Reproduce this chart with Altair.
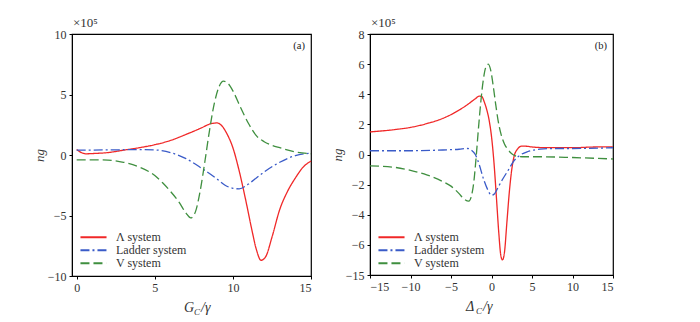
import altair as alt
import pandas as pd

names = ["Λ system", "Ladder system", "V system"]
colors = ["#f02828", "#3a5bc8", "#3f8f3f"]
dashes = [[1, 0], [9, 3, 2, 3], [9, 4]]

# Panel (a): ng vs G_C/gamma (units of 1e5)
a_lam_x = [0, 0.3, 0.6, 1, 2, 3, 4, 5, 6, 7, 8, 8.5, 9.0, 9.3, 9.6, 10.0, 10.4, 10.8, 11.2, 11.5, 11.8, 12.1, 12.5, 13, 13.5, 14, 14.5, 15]
a_lam_y = [0.45, 0.2, 0.1, 0.12, 0.2, 0.4, 0.6, 0.85, 1.2, 1.7, 2.25, 2.55, 2.65, 2.4, 1.8, 0.6, -1.3, -3.6, -6.1, -7.8, -8.7, -8.4, -6.8, -4.5, -3.0, -1.9, -1.0, -0.5]
a_lad_x = [0, 2, 4, 5, 6, 7, 8, 9, 9.5, 10, 10.4, 11, 11.5, 12, 13, 14, 15]
a_lad_y = [0.4, 0.42, 0.45, 0.42, 0.2, -0.3, -1.1, -2.0, -2.5, -2.75, -2.8, -2.4, -1.9, -1.4, -0.6, -0.05, 0.15]
a_v_x = [0, 1, 2, 3, 4, 5, 5.5, 6, 6.5, 7, 7.3, 7.6, 7.9, 8.2, 8.5, 8.8, 9.1, 9.4, 9.7, 10, 10.5, 11, 11.5, 12, 12.5, 13, 14, 15]
a_v_y = [-0.4, -0.4, -0.42, -0.6, -1.0, -1.7, -2.3, -3.0, -3.8, -4.8, -5.2, -4.7, -3.0, -0.6, 2.0, 4.2, 5.6, 6.1, 5.9, 5.3, 3.9, 2.6, 1.6, 1.1, 0.8, 0.6, 0.25, 0.1]

# Panel (b): ng vs Delta_C/gamma (units of 1e5)
b_lam_x = [-15, -12, -10, -8, -6, -5, -4, -3, -2, -1.5, -1.2, -0.9, -0.6, -0.3, 0, 0.3, 0.6, 0.9, 1.15, 1.35, 1.6, 1.9, 2.2, 2.5, 2.8, 3.2, 3.7, 4.2, 5, 7, 10, 13, 15]
b_lam_y = [1.5, 1.65, 1.8, 2.05, 2.4, 2.65, 2.95, 3.3, 3.7, 3.88, 3.85, 3.5, 3.0, 2.3, 1.2, -0.5, -2.8, -5.2, -6.7, -7.0, -6.5, -4.5, -2.5, -1.0, -0.1, 0.35, 0.55, 0.55, 0.5, 0.45, 0.45, 0.5, 0.5]
b_lad_x = [-15, -10, -6, -4, -3, -2.5, -2, -1.5, -1, -0.5, 0, 0.3, 0.7, 1.2, 2, 2.8, 3.5, 4.5, 6, 8, 10, 15]
b_lad_y = [0.25, 0.25, 0.3, 0.35, 0.4, 0.3, 0.0, -0.7, -1.6, -2.3, -2.7, -2.65, -2.3, -1.8, -1.1, -0.4, -0.05, 0.2, 0.35, 0.4, 0.4, 0.45]
b_v_x = [-15, -12, -10, -8, -6, -5, -4, -3.5, -2.8, -2.5, -2.2, -1.9, -1.6, -1.3, -1.0, -0.7, -0.4, -0.1, 0.2, 0.5, 0.8, 1.2, 1.6, 2, 2.5, 3, 4, 6, 10, 15]
b_v_y = [-0.75, -0.85, -1.05, -1.35, -1.8, -2.1, -2.6, -2.9, -3.1, -2.8, -1.9, -0.2, 1.8, 3.6, 5.0, 5.8, 6.0, 5.6, 4.6, 3.4, 2.3, 1.3, 0.7, 0.35, 0.05, -0.1, -0.15, -0.15, -0.2, -0.3]

a_xticks = [0, 5, 10, 15]
a_yticks = [-10, -5, 0, 5, 10]
b_xticks = [-15, -10, -5, 0, 5, 10, 15]
b_yticks = [-8, -6, -4, -2, 0, 2, 4, 6, 8]

SERIF = "Liberation Serif"
LABEL_COLOR = "#333333"


def frame(series):
    rows = []
    for name, xs, ys in series:
        for x, y in zip(xs, ys):
            rows.append({"series": name, "x": x, "y": y})
    return pd.DataFrame(rows)


def legend():
    return alt.Legend(
        title=None, orient="none", legendX=7, legendY=197,
        symbolType="stroke", symbolSize=680, symbolStrokeWidth=2,
        labelFont=SERIF, labelFontSize=12, labelColor=LABEL_COLOR,
        clipHeight=12.5, rowPadding=0, labelOffset=8, padding=0, symbolOffset=0,
    )


def panel(df, xdom, xticks, ydom, yticks, ylabelexpr, letter, sym, sub_x, W, H):
    axis_common = dict(
        labelFont=SERIF, labelFontSize=12, labelColor=LABEL_COLOR,
        tickColor="black", domainColor="black", tickSize=3, grid=False,
        labelPadding=3,
    )
    lines = alt.Chart(df).mark_line(strokeWidth=1.3, interpolate="monotone").encode(
        x=alt.X("x:Q", scale=alt.Scale(domain=xdom, nice=False, zero=False),
                axis=alt.Axis(values=xticks, title=None, **axis_common)),
        y=alt.Y("y:Q", scale=alt.Scale(domain=ydom, nice=False, zero=False),
                axis=alt.Axis(values=yticks, title="ng", titleFont=SERIF, titleFontStyle="italic",
                              titleFontWeight="normal", titleFontSize=13, titleColor=LABEL_COLOR,
                              titleX=-26, titleY=H / 2, labelExpr=ylabelexpr, **axis_common)),
        color=alt.Color("series:N", scale=alt.Scale(domain=names, range=colors), legend=legend()),
        strokeDash=alt.StrokeDash("series:N", scale=alt.Scale(domain=names, range=dashes), legend=legend()),
        order=alt.Order("series:N"),
    )
    one = pd.DataFrame({"k": [0]})
    tag = alt.Chart(one).mark_text(font=SERIF, fontSize=10.5, align="right", baseline="middle", color="#222").encode(
        x=alt.value(W - 6), y=alt.value(12), text=alt.value(letter))
    mult = alt.Chart(one).mark_text(font=SERIF, fontSize=13, align="left", baseline="alphabetic", color=LABEL_COLOR).encode(
        x=alt.value(1), y=alt.value(-7), text=alt.value("×10⁵"))
    t1 = alt.Chart(one).mark_text(font=SERIF, fontSize=14, fontStyle="italic", align="left", baseline="alphabetic", color=LABEL_COLOR).encode(
        x=alt.value(sub_x), y=alt.value(H + 36), text=alt.value(sym))
    t2 = alt.Chart(one).mark_text(font=SERIF, fontSize=9, fontStyle="italic", align="left", baseline="alphabetic", color=LABEL_COLOR).encode(
        x=alt.value(sub_x + 10), y=alt.value(H + 39), text=alt.value("C"))
    t3 = alt.Chart(one).mark_text(font=SERIF, fontSize=14, fontStyle="italic", align="left", baseline="alphabetic", color=LABEL_COLOR).encode(
        x=alt.value(sub_x + 17), y=alt.value(H + 36), text=alt.value("/γ"))
    return alt.layer(lines, tag, mult, t1, t2, t3).properties(width=W, height=H)


df_a = frame([(names[0], a_lam_x, a_lam_y), (names[1], a_lad_x, a_lad_y), (names[2], a_v_x, a_v_y)])
df_b = frame([(names[0], b_lam_x, b_lam_y), (names[1], b_lad_x, b_lad_y), (names[2], b_v_x, b_v_y)])

pa = panel(df_a, [-0.3, 15], a_xticks, [-10, 10], a_yticks, "datum.label", "(a)", "G", 112, 239, 242)
pb = panel(df_b, [-15, 15], b_xticks, [-8, 8], b_yticks,
           "datum.value == -8 ? '−15' : datum.label", "(b)", "Δ", 96, 243, 241)

chart = alt.hconcat(pa, pb, spacing=59, bounds="flush").resolve_scale(
    color="independent", strokeDash="independent"
).configure_view(stroke="black", strokeWidth=1.2).properties(
    padding={"left": 32, "top": 16, "right": 5, "bottom": 5},
    background="white",
)

chart.save("out.html", embed_options={"renderer": "svg", "actions": False})
